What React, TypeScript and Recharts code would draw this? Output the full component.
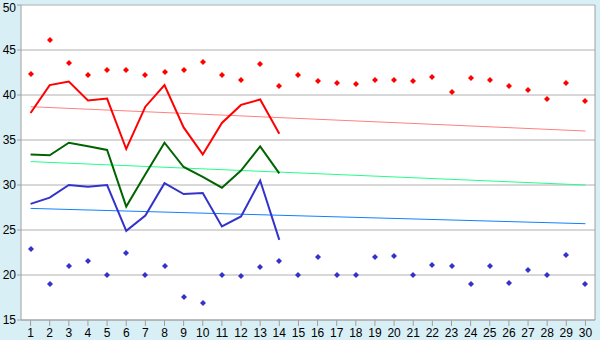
import React from "react";
import { CartesianGrid, ComposedChart, Line, ReferenceLine, XAxis, YAxis } from "recharts";

const days = Array.from({ length: 30 }, (_, i) => i + 1);

const redLine = [38.0, 41.1, 41.5, 39.4, 39.6, 34.0, 38.7, 41.1, 36.4, 33.4, 36.9, 38.9, 39.5, 35.7];
const greenLine = [33.4, 33.3, 34.7, 34.3, 33.9, 27.6, 31.2, 34.7, 32.0, 30.9, 29.7, 31.6, 34.3, 31.3];
const blueLine = [27.9, 28.6, 30.0, 29.8, 30.0, 24.9, 26.6, 30.2, 29.0, 29.1, 25.4, 26.5, 30.5, 23.9];

const redMarks = [
  42.3, 46.1, 43.6, 42.2, 42.8, 42.8, 42.2, 42.6, 42.8, 43.7, 42.2, 41.7, 43.4, 41.0, 42.2,
  41.6, 41.3, 41.2, 41.7, 41.7, 41.6, 42.0, 40.3, 41.9, 41.7, 41.0, 40.6, 39.6, 41.3, 39.3,
];
const blueMarks = [
  22.9, 19.0, 21.0, 21.6, 20.0, 22.4, 20.0, 21.0, 17.6, 16.9, 20.0, 19.9, 20.9, 21.6, 20.0,
  22.0, 20.0, 20.0, 22.0, 22.1, 20.0, 21.1, 21.0, 19.0, 21.0, 19.1, 20.6, 20.0, 22.2, 19.0,
];

// trend lines: value at day 1 and day 30
const redTrend = [38.7, 36.0];
const greenTrend = [32.6, 30.0];
const blueTrend = [27.4, 25.7];

const yTicks = [15, 20, 25, 30, 35, 40, 45, 50];

const data = days.map((d, i) => ({
  day: d,
  red: redLine[i] ?? null,
  green: greenLine[i] ?? null,
  blue: blueLine[i] ?? null,
  redMark: redMarks[i],
  blueMark: blueMarks[i],
  redTrend: i === 0 ? redTrend[0] : i === days.length - 1 ? redTrend[1] : null,
  greenTrend: i === 0 ? greenTrend[0] : i === days.length - 1 ? greenTrend[1] : null,
  blueTrend: i === 0 ? blueTrend[0] : i === days.length - 1 ? blueTrend[1] : null,
}));

const marker = (color: string) => (props: any) => {
  const { cx, cy, index } = props;
  if (cx == null || cy == null) return <g key={index} />;
  const x = Math.round(cx);
  const y = Math.round(cy);
  return (
    <path
      key={index}
      d={`M${x - 0.5},${y - 2.5}h2v1h1v1h1v1h-1v1h-1v1h-2v-1h-1v-1h-1v-1h1v-1h1z`}
      transform="translate(-0.5,0)"
      fill={color}
    />
  );
};

export default function App() {
  return (
    <div style={{ width: 600, height: 340, background: "#d9eff6", fontFamily: "'Liberation Sans', Arial, sans-serif" }}>
      <style>{`body{margin:0}`}</style>
      <ComposedChart width={600} height={340} data={data} margin={{ top: 5, right: 5, left: 0, bottom: 0 }}>
        <CartesianGrid vertical={false} stroke="#b0b0b0" fill="#ffffff" />
        <XAxis
          dataKey="day"
          type="number"
          domain={[0.5, 30.5]}
          ticks={days}
          interval={0}
          height={20}
          stroke="#a0a0a0"
          tickSize={6}
          tick={{ fill: "#000", fontSize: 12 }}
        />
        <YAxis
          domain={[15, 50]}
          ticks={yTicks}
          width={21}
          stroke="#a0a0a0"
          tickSize={4}
          tickMargin={1}
          tick={{ fill: "#000", fontSize: 12 }}
        />
        <ReferenceLine x={30.5} stroke="#a0a0a0" />
        <Line dataKey="redTrend" stroke="#ff8080" strokeWidth={1} dot={false} connectNulls isAnimationActive={false} />
        <Line dataKey="greenTrend" stroke="#22ff88" strokeWidth={1} dot={false} connectNulls isAnimationActive={false} />
        <Line dataKey="blueTrend" stroke="#1080ff" strokeWidth={1} dot={false} connectNulls isAnimationActive={false} />
        <Line dataKey="red" stroke="#ff0000" strokeWidth={2} dot={false} isAnimationActive={false} />
        <Line dataKey="green" stroke="#006400" strokeWidth={2} dot={false} isAnimationActive={false} />
        <Line dataKey="blue" stroke="#3333cc" strokeWidth={2} dot={false} isAnimationActive={false} />
        <Line dataKey="redMark" stroke="none" dot={marker("#ff0000")} activeDot={false} isAnimationActive={false} />
        <Line dataKey="blueMark" stroke="none" dot={marker("#3333cc")} activeDot={false} isAnimationActive={false} />
      </ComposedChart>
    </div>
  );
}
